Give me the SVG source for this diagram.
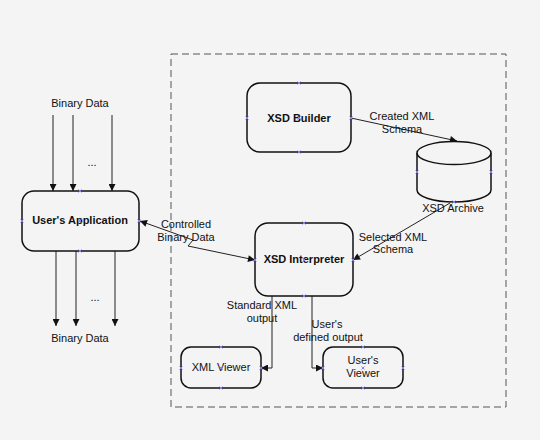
<svg xmlns="http://www.w3.org/2000/svg" width="540" height="440" viewBox="0 0 540 440">
<defs>
<style>
.node{fill:#f4f4f4;stroke:#111;stroke-width:1.5}
.lbl{font-family:"Liberation Sans",Arial,sans-serif;font-size:11px;fill:#111;text-anchor:middle}
.b{font-weight:bold}
.c{fill:none;stroke:#222;stroke-width:1}
.pt{stroke:#8080ff;stroke-width:1}
</style>
<marker id="ah" viewBox="0 0 10 10" refX="10" refY="5" markerWidth="9" markerHeight="7" orient="auto-start-reverse" markerUnits="userSpaceOnUse">
<path d="M0,0 L10,5 L0,10 z" fill="#111"/>
</marker>
<g id="x"><path class="pt" d="M-1.5,-1.5 L1.5,1.5 M-1.5,1.5 L1.5,-1.5"/></g>
</defs>
<rect width="540" height="440" fill="#f4f4f4"/>
<rect x="171" y="54" width="335" height="353" fill="none" stroke="#555" stroke-width="1" stroke-dasharray="7,4"/>

<g id="connectors">
<line class="c" x1="53" y1="115" x2="53" y2="191" marker-end="url(#ah)"/>
<line class="c" x1="73" y1="115" x2="73" y2="191" marker-end="url(#ah)"/>
<line class="c" x1="112" y1="115" x2="112" y2="191" marker-end="url(#ah)"/>
<line class="c" x1="56" y1="251" x2="56" y2="326" marker-end="url(#ah)"/>
<line class="c" x1="76" y1="251" x2="76" y2="326" marker-end="url(#ah)"/>
<line class="c" x1="115" y1="251" x2="115" y2="326" marker-end="url(#ah)"/>
<polyline class="c" points="140,221 193,240 188,246 255,260" marker-start="url(#ah)" marker-end="url(#ah)"/>
<line class="c" x1="351" y1="118" x2="457" y2="141" marker-end="url(#ah)"/>
<line class="c" x1="450" y1="203" x2="353" y2="260" marker-end="url(#ah)"/>
<polyline class="c" points="272,296 272,368 261,368" marker-end="url(#ah)"/>
<polyline class="c" points="312,296 312,368 323,368" marker-end="url(#ah)"/>
<text class="lbl" x="80" y="107">Binary Data</text>
<text class="lbl" x="92" y="166">...</text>
<text class="lbl" x="95" y="301">...</text>
<text class="lbl" x="80" y="342">Binary Data</text>
<text class="lbl" x="186" y="228">Controlled</text>
<text class="lbl" x="186" y="241">Binary Data</text>
<text class="lbl" x="402" y="120">Created XML</text>
<text class="lbl" x="402" y="133">Schema</text>
<text class="lbl" x="393" y="241">Selected XML</text>
<text class="lbl" x="393" y="253">Schema</text>
<text class="lbl" x="262" y="309">Standard XML</text>
<text class="lbl" x="262" y="322">output</text>
<text class="lbl" x="327" y="328">User's</text>
<text class="lbl" x="328" y="341">defined output</text>
</g>

<g id="users-application">
<rect class="node" x="22" y="191" width="117" height="60" rx="12"/>
<text class="lbl b" x="80" y="224">User's Application</text>
<use href="#x" x="80" y="191"/><use href="#x" x="80" y="251"/><use href="#x" x="22" y="221"/><use href="#x" x="139" y="221"/><use href="#x" x="80" y="221"/>
</g>

<g id="xsd-builder">
<rect class="node" x="247" y="83" width="104" height="69" rx="13"/>
<text class="lbl b" x="299" y="122">XSD Builder</text>
<use href="#x" x="299" y="83"/><use href="#x" x="299" y="152"/><use href="#x" x="247" y="118"/><use href="#x" x="351" y="118"/><use href="#x" x="299" y="118"/>
</g>

<g id="xsd-archive">
<path class="node" d="M417,153 L417,190 A37,12 0 0 0 491,190 L491,153"/>
<ellipse class="node" cx="454" cy="153" rx="37" ry="11.5"/>
<text class="lbl" x="453" y="212">XSD Archive</text>
<use href="#x" x="417" y="172"/><use href="#x" x="491" y="172"/><use href="#x" x="454" y="202"/>
</g>

<g id="xsd-interpreter">
<rect class="node" x="255" y="223" width="98" height="73" rx="13"/>
<text class="lbl b" x="304" y="263">XSD Interpreter</text>
<use href="#x" x="304" y="223"/><use href="#x" x="304" y="296"/><use href="#x" x="255" y="260"/><use href="#x" x="353" y="260"/><use href="#x" x="304" y="260"/>
</g>

<g id="xml-viewer">
<rect class="node" x="181" y="347" width="80" height="41" rx="10"/>
<text class="lbl" x="221" y="371">XML Viewer</text>
<use href="#x" x="221" y="347"/><use href="#x" x="221" y="388"/><use href="#x" x="181" y="368"/><use href="#x" x="261" y="368"/><use href="#x" x="221" y="368"/>
</g>

<g id="users-viewer">
<rect class="node" x="323" y="347" width="80" height="41" rx="10"/>
<text class="lbl" x="363" y="364">User's</text>
<text class="lbl" x="363" y="377">Viewer</text>
<use href="#x" x="363" y="347"/><use href="#x" x="363" y="388"/><use href="#x" x="323" y="368"/><use href="#x" x="403" y="368"/><use href="#x" x="363" y="368"/>
</g>
</svg>
